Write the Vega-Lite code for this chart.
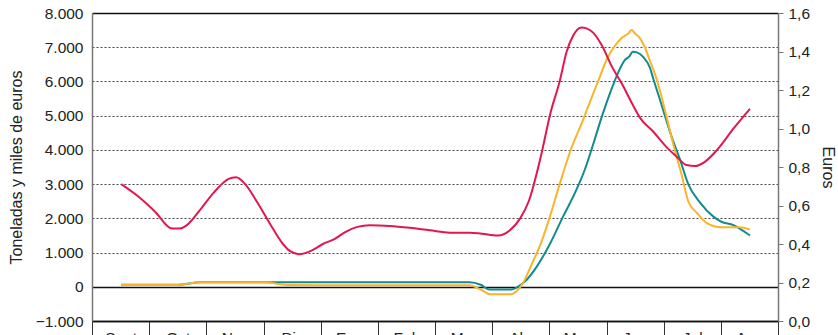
{
  "$schema": "https://vega.github.io/schema/vega-lite/v6.json",
  "width": 686,
  "height": 308,
  "autosize": "none",
  "padding": {"left": 92, "top": 13, "right": 60, "bottom": 14},
  "config": {
    "view": {"stroke": null},
    "font": "Liberation Sans",
    "axis": {"labelFont": "Liberation Sans", "titleFont": "Liberation Sans", "labelFontSize": 15.5, "titleFontSize": 16, "titleFontWeight": "normal", "labelColor": "#222", "titleColor": "#222"}
  },
  "datasets": {
    "volumen": [
      {"m": 0.51, "serie": "Toneladas", "v": 60}, {"m": 1.0, "serie": "Toneladas", "v": 60}, {"m": 1.5, "serie": "Toneladas", "v": 60},
      {"m": 1.9, "serie": "Toneladas", "v": 130}, {"m": 2.5, "serie": "Toneladas", "v": 135}, {"m": 3.0, "serie": "Toneladas", "v": 135},
      {"m": 3.5, "serie": "Toneladas", "v": 135}, {"m": 4.0, "serie": "Toneladas", "v": 135}, {"m": 5.0, "serie": "Toneladas", "v": 135},
      {"m": 6.0, "serie": "Toneladas", "v": 135}, {"m": 6.6, "serie": "Toneladas", "v": 135}, {"m": 6.8, "serie": "Toneladas", "v": 60},
      {"m": 6.95, "serie": "Toneladas", "v": -80}, {"m": 7.34, "serie": "Toneladas", "v": -80}, {"m": 7.46, "serie": "Toneladas", "v": 10},
      {"m": 7.6, "serie": "Toneladas", "v": 200}, {"m": 7.78, "serie": "Toneladas", "v": 590}, {"m": 8.01, "serie": "Toneladas", "v": 1250},
      {"m": 8.24, "serie": "Toneladas", "v": 2050}, {"m": 8.45, "serie": "Toneladas", "v": 2750}, {"m": 8.62, "serie": "Toneladas", "v": 3420},
      {"m": 8.77, "serie": "Toneladas", "v": 4180}, {"m": 8.92, "serie": "Toneladas", "v": 4980}, {"m": 9.06, "serie": "Toneladas", "v": 5650},
      {"m": 9.21, "serie": "Toneladas", "v": 6280}, {"m": 9.32, "serie": "Toneladas", "v": 6620}, {"m": 9.4, "serie": "Toneladas", "v": 6730},
      {"m": 9.46, "serie": "Toneladas", "v": 6870}, {"m": 9.53, "serie": "Toneladas", "v": 6850}, {"m": 9.64, "serie": "Toneladas", "v": 6720},
      {"m": 9.76, "serie": "Toneladas", "v": 6400}, {"m": 9.82, "serie": "Toneladas", "v": 6070}, {"m": 9.97, "serie": "Toneladas", "v": 5280},
      {"m": 10.14, "serie": "Toneladas", "v": 4380}, {"m": 10.29, "serie": "Toneladas", "v": 3700}, {"m": 10.43, "serie": "Toneladas", "v": 3000},
      {"m": 10.64, "serie": "Toneladas", "v": 2450}, {"m": 10.87, "serie": "Toneladas", "v": 2050}, {"m": 11.01, "serie": "Toneladas", "v": 1900},
      {"m": 11.22, "serie": "Toneladas", "v": 1800}, {"m": 11.33, "serie": "Toneladas", "v": 1700}, {"m": 11.51, "serie": "Toneladas", "v": 1500},
      {"m": 0.51, "serie": "Miles de euros", "v": 50}, {"m": 1.0, "serie": "Miles de euros", "v": 50}, {"m": 1.5, "serie": "Miles de euros", "v": 55},
      {"m": 1.9, "serie": "Miles de euros", "v": 130}, {"m": 2.5, "serie": "Miles de euros", "v": 135}, {"m": 3.0, "serie": "Miles de euros", "v": 130},
      {"m": 3.46, "serie": "Miles de euros", "v": 50}, {"m": 4.0, "serie": "Miles de euros", "v": 45}, {"m": 5.0, "serie": "Miles de euros", "v": 45},
      {"m": 6.0, "serie": "Miles de euros", "v": 45}, {"m": 6.6, "serie": "Miles de euros", "v": 45}, {"m": 6.8, "serie": "Miles de euros", "v": -80},
      {"m": 6.97, "serie": "Miles de euros", "v": -220}, {"m": 7.31, "serie": "Miles de euros", "v": -220}, {"m": 7.43, "serie": "Miles de euros", "v": -120},
      {"m": 7.54, "serie": "Miles de euros", "v": 110}, {"m": 7.69, "serie": "Miles de euros", "v": 650}, {"m": 7.87, "serie": "Miles de euros", "v": 1350},
      {"m": 8.01, "serie": "Miles de euros", "v": 2050}, {"m": 8.19, "serie": "Miles de euros", "v": 3050}, {"m": 8.36, "serie": "Miles de euros", "v": 3930},
      {"m": 8.59, "serie": "Miles de euros", "v": 4880}, {"m": 8.74, "serie": "Miles de euros", "v": 5530}, {"m": 8.88, "serie": "Miles de euros", "v": 6120},
      {"m": 9.0, "serie": "Miles de euros", "v": 6630}, {"m": 9.15, "serie": "Miles de euros", "v": 7050}, {"m": 9.27, "serie": "Miles de euros", "v": 7280},
      {"m": 9.38, "serie": "Miles de euros", "v": 7400}, {"m": 9.44, "serie": "Miles de euros", "v": 7500}, {"m": 9.5, "serie": "Miles de euros", "v": 7400},
      {"m": 9.59, "serie": "Miles de euros", "v": 7250}, {"m": 9.67, "serie": "Miles de euros", "v": 7000}, {"m": 9.76, "serie": "Miles de euros", "v": 6600},
      {"m": 9.88, "serie": "Miles de euros", "v": 6050}, {"m": 10.02, "serie": "Miles de euros", "v": 5180}, {"m": 10.17, "serie": "Miles de euros", "v": 4150},
      {"m": 10.31, "serie": "Miles de euros", "v": 3300}, {"m": 10.43, "serie": "Miles de euros", "v": 2500}, {"m": 10.58, "serie": "Miles de euros", "v": 2160},
      {"m": 10.75, "serie": "Miles de euros", "v": 1870}, {"m": 11.01, "serie": "Miles de euros", "v": 1740}, {"m": 11.33, "serie": "Miles de euros", "v": 1740},
      {"m": 11.51, "serie": "Miles de euros", "v": 1670}
    ],
    "precio": [
      {"m": 0.51, "e": 0.711}, {"m": 0.8, "e": 0.649}, {"m": 1.1, "e": 0.569}, {"m": 1.4, "e": 0.48}, {"m": 1.53, "e": 0.48},
      {"m": 1.66, "e": 0.498}, {"m": 1.87, "e": 0.569}, {"m": 2.13, "e": 0.667}, {"m": 2.39, "e": 0.738}, {"m": 2.52, "e": 0.747},
      {"m": 2.68, "e": 0.711}, {"m": 2.88, "e": 0.622}, {"m": 3.11, "e": 0.507}, {"m": 3.34, "e": 0.4}, {"m": 3.46, "e": 0.364},
      {"m": 3.62, "e": 0.347}, {"m": 3.83, "e": 0.364}, {"m": 4.04, "e": 0.4}, {"m": 4.25, "e": 0.427}, {"m": 4.43, "e": 0.462},
      {"m": 4.64, "e": 0.489}, {"m": 4.86, "e": 0.498}, {"m": 5.21, "e": 0.494}, {"m": 5.56, "e": 0.484}, {"m": 5.91, "e": 0.471},
      {"m": 6.26, "e": 0.459}, {"m": 6.61, "e": 0.459}, {"m": 6.82, "e": 0.453}, {"m": 7.1, "e": 0.444}, {"m": 7.31, "e": 0.471},
      {"m": 7.49, "e": 0.533}, {"m": 7.64, "e": 0.622}, {"m": 7.85, "e": 0.853}, {"m": 8.02, "e": 1.081}, {"m": 8.18, "e": 1.244},
      {"m": 8.3, "e": 1.396}, {"m": 8.42, "e": 1.484}, {"m": 8.56, "e": 1.525}, {"m": 8.65, "e": 1.52}, {"m": 8.77, "e": 1.497},
      {"m": 8.92, "e": 1.431}, {"m": 9.09, "e": 1.324}, {"m": 9.27, "e": 1.232}, {"m": 9.44, "e": 1.134}, {"m": 9.59, "e": 1.054},
      {"m": 9.82, "e": 0.983}, {"m": 10.05, "e": 0.903}, {"m": 10.23, "e": 0.853}, {"m": 10.4, "e": 0.81}, {"m": 10.55, "e": 0.805},
      {"m": 10.72, "e": 0.827}, {"m": 10.95, "e": 0.894}, {"m": 11.22, "e": 0.999}, {"m": 11.51, "e": 1.102}
    ]
  },
  "encoding": {
    "x": {
      "field": "m", "type": "quantitative",
      "scale": {"domain": [0, 12], "nice": false, "zero": false},
      "axis": {
        "title": null,
        "values": [0, 0.5, 1, 1.5, 2, 2.5, 3, 3.5, 4, 4.5, 5, 5.5, 6, 6.5, 7, 7.5, 8, 8.5, 9, 9.5, 10, 10.5, 11, 11.5, 12],
        "labelExpr": "datum.value % 1 == 0 ? '' : split('Sept,Oct,Nov,Dic,Ene,Feb,Mar,Abr,May,Jun,Jul,Ago', ',')[floor(datum.value)]",
        "tickSize": 20,
        "tickColor": "#333",
        "tickOpacity": {"condition": {"test": "datum.value % 1 != 0", "value": 0}, "value": 1},
        "labelPadding": -11,
        "labelBaseline": "top",
        "labelColor": "#222",
        "labelFlush": false,
        "labelOverlap": false,
        "domainColor": "#111",
        "domainWidth": 1.5,
        "grid": false
      }
    }
  },
  "layer": [
    {
      "data": {"name": "volumen"},
      "mark": {"type": "line", "strokeWidth": 2, "interpolate": "monotone"},
      "encoding": {
        "y": {
          "field": "v", "type": "quantitative",
          "scale": {"domain": [-1000, 8000], "nice": false, "zero": false},
          "axis": {
            "title": "Toneladas y miles de euros",
            "values": [-1000, 0, 1000, 2000, 3000, 4000, 5000, 6000, 7000, 8000],
            "labelExpr": "replace(format(datum.value, ','), ',', '.')",
            "ticks": false,
            "labelPadding": 9,
            "titlePadding": 11,
            "domainColor": "#777",
            "domainWidth": 1.5,
            "grid": true,
            "gridColor": {"condition": {"test": "datum.value == 0 || datum.value == 8000 || datum.value == -1000", "value": "#111"}, "value": "#444"},
            "gridDash": {"condition": {"test": "datum.value == 0 || datum.value == 8000 || datum.value == -1000", "value": []}, "value": [2, 2]},
            "gridWidth": {"condition": {"test": "datum.value == 0 || datum.value == 8000 || datum.value == -1000", "value": 1.5}, "value": 1}
          }
        },
        "color": {
          "field": "serie", "type": "nominal",
          "scale": {"domain": ["Toneladas", "Miles de euros"], "range": ["#118c8e", "#fbb32b"]},
          "legend": null
        }
      }
    },
    {
      "data": {"name": "precio"},
      "mark": {"type": "line", "strokeWidth": 2, "interpolate": "monotone", "color": "#e2174e"},
      "encoding": {
        "y": {
          "field": "e", "type": "quantitative",
          "scale": {"domain": [0, 1.6], "nice": false, "zero": false},
          "axis": {
            "title": "Euros",
            "orient": "right",
            "values": [0, 0.2, 0.4, 0.6, 0.8, 1.0, 1.2, 1.4, 1.6],
            "labelExpr": "replace(format(datum.value, '.1f'), '.', ',')",
            "tickSize": 5,
            "tickColor": "#777",
            "labelPadding": 5,
            "titlePadding": 10,
            "domainColor": "#777",
            "domainWidth": 1.5,
            "grid": false
          }
        }
      }
    }
  ],
  "resolve": {"scale": {"y": "independent"}}
}
